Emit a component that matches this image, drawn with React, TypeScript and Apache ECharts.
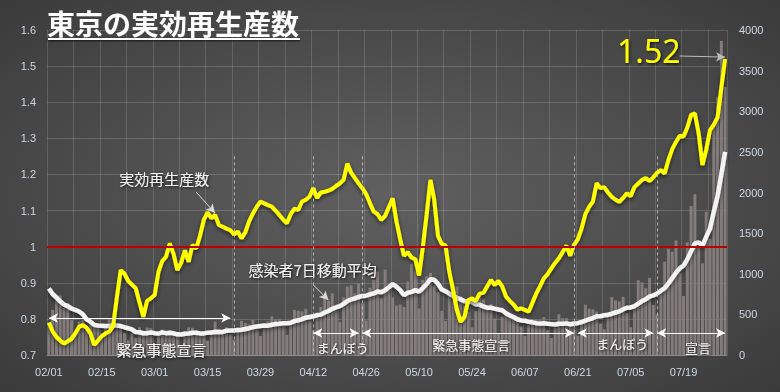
import React, { useEffect, useRef } from "react";
import * as echarts from "echarts";

// 2021-02-01 .. 2021-07-30
const dayCount = 180;
const categories: string[] = Array.from({ length: dayCount }, (_, i) => {
  const d = new Date(2021, 1, 1 + i);
  return `${String(d.getMonth() + 1).padStart(2, "0")}/${String(d.getDate()).padStart(2, "0")}`;
});

// daily new cases (right axis)
const dailyCases = [
  // Feb
  393, 556, 676, 734, 577, 639, 429, 276, 412, 434, 307, 370, 369, 371, 266, 378, 445, 353, 353, 327,
  272, 178, 275, 213, 340, 270, 337, 329,
  // Mar
  121, 232, 316, 279, 301, 293, 237, 116, 290, 340, 335, 304, 239, 239, 175, 300, 409, 323, 303, 342,
  256, 187, 337, 420, 394, 376, 430, 313, 234, 364, 414,
  // Apr
  475, 440, 446, 355, 249, 399, 555, 545, 537, 570, 421, 306, 510, 591, 729, 667, 759, 543, 405, 711,
  843, 861, 759, 876, 635, 425, 828, 925, 1027, 698,
  // May
  1050, 879, 708, 609, 621, 591, 907, 1121, 1032, 573, 925, 969, 1010, 854, 772, 542, 419, 732, 766, 843,
  722, 620, 535, 340, 539, 743, 684, 614, 629, 449, 260,
  // Jun
  471, 487, 508, 472, 436, 351, 235, 369, 440, 439, 435, 467, 304, 209, 337, 501, 452, 453, 388, 376,
  236, 435, 619, 570, 562, 534, 386, 317, 476, 714,
  // Jul
  673, 660, 716, 518, 342, 593, 920, 896, 822, 950, 614, 502, 830, 1149, 1308, 1271, 1410, 1008, 727, 1387,
  1832, 1979, 1359, 1128, 1763, 1429, 2848, 3177, 3865, 3300,
];

// 7-day moving average of cases (right axis)
const movingAvg = [
  // Feb
  818, 751, 708, 661, 620, 601, 572, 555, 535, 500, 439, 410, 371, 363, 361, 356, 358, 365, 362, 356,
  342, 329, 315, 282, 280, 268, 269, 277,
  // Mar
  269, 263, 278, 269, 274, 267, 254, 253, 262, 265, 273, 274, 266, 266, 275, 276, 286, 284, 284, 299,
  301, 303, 308, 310, 320, 330, 343, 351, 358, 362, 361,
  // Apr
  372, 381, 384, 390, 392, 397, 417, 427, 441, 459, 468, 476, 492, 497, 523, 542, 569, 586, 601, 629,
  665, 684, 697, 714, 727, 730, 747, 758, 782, 773,
  // May
  798, 833, 874, 842, 799, 737, 766, 777, 798, 779, 824, 874, 934, 926, 876, 806, 784, 757, 728, 704,
  685, 663, 662, 651, 624, 620, 598, 582, 583, 571, 560,
  // Jun
  550, 513, 488, 468, 440, 426, 423, 408, 402, 392, 386, 391, 384, 380, 376, 385, 386, 389, 378, 388,
  392, 406, 423, 440, 455, 476, 477, 489, 495, 508,
  // Jul
  523, 537, 563, 582, 586, 602, 632, 664, 687, 720, 734, 757, 791, 823, 882, 946, 1012, 1068, 1100, 1180,
  1278, 1373, 1386, 1346, 1454, 1554, 1763, 1955, 2224, 2501,
];

// effective reproduction number (left axis)
const reproNumber = [
  0.79, 0.765, 0.75, 0.74, 0.732, 0.738, 0.745, 0.76, 0.778, 0.783,
  0.775, 0.76, 0.728, 0.74, 0.752, 0.76, 0.765, 0.78, 0.86, 0.935,
  0.925, 0.905, 0.895, 0.885, 0.845, 0.806, 0.85, 0.857, 0.866, 0.93,
  0.96, 0.972, 1.009, 0.98, 0.935, 0.955, 0.99, 0.958, 1.005, 0.995,
  1.03, 1.074, 1.095, 1.079, 1.088, 1.06, 1.055, 1.05, 1.046, 1.034,
  1.042, 1.023, 1.04, 1.07, 1.092, 1.11, 1.125, 1.12, 1.115, 1.111,
  1.1, 1.088, 1.075, 1.065, 1.09, 1.105, 1.102, 1.125, 1.13, 1.139,
  1.162, 1.135, 1.15, 1.152, 1.155, 1.16, 1.168, 1.175, 1.185, 1.23,
  1.205, 1.19, 1.175, 1.162, 1.145, 1.12, 1.097, 1.09, 1.074, 1.085,
  1.11, 1.134, 1.07, 1.02, 0.975, 0.985, 0.97, 0.965, 0.92, 1.0,
  1.09, 1.185, 1.13, 1.03, 1.008, 1.003, 0.93, 0.88, 0.825, 0.792,
  0.805, 0.852, 0.857, 0.85, 0.87, 0.872, 0.89, 0.908, 0.894, 0.905,
  0.89, 0.862, 0.85, 0.84, 0.826, 0.829, 0.825, 0.82, 0.845, 0.87,
  0.89, 0.912, 0.924, 0.94, 0.955, 0.968, 0.985, 1.003, 0.975, 1.005,
  1.02, 1.05, 1.09, 1.11, 1.125, 1.176, 1.162, 1.165, 1.15, 1.138,
  1.13, 1.124, 1.135, 1.148, 1.14, 1.165, 1.175, 1.185, 1.19, 1.182,
  1.192, 1.205, 1.212, 1.203, 1.24, 1.27, 1.29, 1.307, 1.305, 1.33,
  1.365, 1.369, 1.314, 1.226, 1.268, 1.323, 1.338, 1.358, 1.44, 1.52,
];

const leftTicks = { min: 0.7, max: 1.6, step: 0.1 };
const rightTicks = { min: 0, max: 4000, step: 500 };

// policy periods: [start, end, label, arrow level, label anchor date, label level, font size]
const periods: [string, string, string, number, string, number, number][] = [
  ["02/01", "03/21", "緊急事態宣言", 0.8025, "03/02", 0.714, 15],
  ["04/12", "04/24", "まんぼう", 0.761, "04/19", 0.722, 13],
  ["04/25", "06/20", "緊急事態宣言", 0.761, "05/23", 0.73, 13],
  ["06/21", "07/11", "まんぼう", 0.761, "07/02", 0.733, 13],
  ["07/12", "07/30", "宣言", 0.761, "07/22", 0.722, 13],
];
const boundaryDates = ["03/22", "04/12", "04/25", "06/20", "07/12"];

const CJK = '"Noto Sans CJK JP", "Noto Sans", sans-serif';

export default function App() {
  const ref = useRef<HTMLDivElement>(null);
  useEffect(() => {
    if (!ref.current) return;
    const chart = echarts.init(ref.current, undefined, { renderer: "svg" });
    const textShadow = {
      textShadowColor: "rgba(0,0,0,0.85)",
      textShadowBlur: 3,
      textShadowOffsetX: 1,
      textShadowOffsetY: 1,
    };
    const arrowLines: any[] = periods.map((p) => [
      { coord: [p[0], p[3]], symbol: "arrow", symbolSize: [7, 9] },
      { coord: [p[1], p[3]], symbol: "arrow", symbolSize: [7, 9] },
    ]);
    arrowLines.forEach((l) => (l[0].lineStyle = { color: "#ffffff", width: 1, type: "solid" }));
    const dashLines = boundaryDates.map((d) => [
      { coord: [d, 1.25], lineStyle: { color: "#c8c8c8", width: 1, type: [3, 3], opacity: 0.8 } },
      { coord: [d, 0.7] },
    ]);
    const calloutStyle = { color: "#d8d8d8", width: 1, type: "solid" };
    const callouts: any[] = [
      [
        { coord: ["03/12", 1.151], symbol: "none", lineStyle: calloutStyle },
        { coord: ["03/17", 1.093], symbol: "arrow", symbolSize: [7, 9] },
      ],
      [
        { coord: ["04/12", 0.894], symbol: "none", lineStyle: calloutStyle },
        { coord: ["04/16", 0.852], symbol: "arrow", symbolSize: [7, 9] },
      ],
      [
        { coord: ["07/18", 1.528], symbol: "none", lineStyle: { ...calloutStyle, color: "#bdbdbd" } },
        { coord: ["07/30", 1.525], symbol: "arrow", symbolSize: [7, 9] },
      ],
    ];
    const textPoints: any[] = [
      ...periods.map((p) => ({
        coord: [p[4], p[5]],
        label: { formatter: p[2], fontSize: p[6], offset: [3, 0] },
      })),
      { coord: ["03/03", 1.19], label: { formatter: "実効再生産数", fontSize: 15, offset: [2, 0] } },
      { coord: ["04/11", 0.938], label: { formatter: "感染者7日移動平均", fontSize: 15, offset: [3, 0] } },
      {
        coord: ["07/09", 1.542],
        label: { formatter: "1.52", fontSize: 32, color: "#ffff00", fontFamily: "Noto Sans, sans-serif", offset: [3, 0] },
      },
    ];

    chart.setOption({
      animation: false,
      backgroundColor: new echarts.graphic.RadialGradient(0.5, 0.5, 1.05, [
        { offset: 0, color: "#606060" },
        { offset: 0.55, color: "#424242" },
        { offset: 1, color: "#262626" },
      ]),
      graphic: [
        {
          type: "text",
          left: 47,
          top: 9,
          style: {
            text: "東京の実効再生産数",
            fill: "#ffffff",
            font: `bold 28px ${CJK}`,
            shadowColor: "rgba(0,0,0,0.9)",
            shadowBlur: 3,
            shadowOffsetX: 2,
            shadowOffsetY: 2,
          },
          z: 10,
        },
        {
          type: "rect",
          shape: { x: 48, y: 38, width: 252, height: 2 },
          style: { fill: "#ffffff", shadowColor: "rgba(0,0,0,0.8)", shadowBlur: 2, shadowOffsetY: 1 },
          z: 10,
        },
      ],
      grid: { left: 47, right: 53, top: 30, bottom: 37 },
      xAxis: {
        type: "category",
        data: categories,
        boundaryGap: true,
        axisLine: { show: true, lineStyle: { color: "rgba(255,255,255,0.25)" } },
        axisTick: { show: false, interval: 6 },
        axisLabel: {
          interval: 13,
          color: "#cdd8e6",
          fontSize: 11,
          fontFamily: "Liberation Sans, sans-serif",
          margin: 11,
        },
        splitLine: { show: true, interval: 6, lineStyle: { color: "rgba(255,255,255,0.14)", width: 1 } },
      },
      yAxis: [
        {
          type: "value",
          min: leftTicks.min,
          max: leftTicks.max,
          interval: leftTicks.step,
          axisLine: { show: false },
          axisTick: { show: false },
          axisLabel: {
            color: "#cdd8e6",
            fontSize: 11,
            fontFamily: "Liberation Sans, sans-serif",
            margin: 11,
            formatter: (v: number) => String(Math.round(v * 10) / 10),
          },
          splitLine: { show: true, lineStyle: { color: "rgba(255,255,255,0.16)", width: 1 } },
        },
        {
          type: "value",
          min: rightTicks.min,
          max: rightTicks.max,
          interval: rightTicks.step,
          axisLine: { show: false },
          axisTick: { show: false },
          axisLabel: {
            color: "#cdd8e6",
            fontSize: 11,
            fontFamily: "Liberation Sans, sans-serif",
            margin: 12,
            formatter: (v: number) => String(v),
          },
          splitLine: { show: false },
        },
      ],
      series: [
        {
          name: "新規感染者",
          type: "bar",
          yAxisIndex: 1,
          data: dailyCases,
          barCategoryGap: "22%",
          itemStyle: { color: "rgba(135,128,126,0.95)" },
          z: 1,
        },
        {
          name: "感染者7日移動平均",
          type: "line",
          yAxisIndex: 1,
          data: movingAvg,
          symbol: "none",
          lineStyle: {
            color: "#f3f3f3",
            width: 4.5,
            shadowColor: "rgba(0,0,0,0.55)",
            shadowBlur: 4,
            shadowOffsetY: 2,
          },
          z: 3,
        },
        {
          name: "実効再生産数",
          type: "line",
          yAxisIndex: 0,
          data: reproNumber,
          symbol: "none",
          lineStyle: {
            color: "#ffff00",
            width: 4,
            shadowColor: "rgba(0,0,0,0.6)",
            shadowBlur: 4,
            shadowOffsetY: 2,
          },
          z: 4,
          markLine: {
            silent: true,
            symbol: ["none", "none"],
            label: { show: false },
            emphasis: { disabled: true },
            data: [
              { yAxis: 1, lineStyle: { color: "#c00000", width: 2, type: "solid" } },
              ...dashLines,
              ...arrowLines,
              ...callouts,
            ],
          },
          markPoint: {
            silent: true,
            symbol: "rect",
            symbolSize: 1,
            itemStyle: { color: "rgba(0,0,0,0)" },
            label: {
              show: true,
              position: "inside",
              color: "#f2f2f2",
              fontFamily: CJK,
              ...textShadow,
            },
            data: textPoints,
          },
        },
      ],
    });
    return () => chart.dispose();
  }, []);
  return <div ref={ref} style={{ position: "fixed", left: 0, top: 0, width: 780, height: 392 }} />;
}
